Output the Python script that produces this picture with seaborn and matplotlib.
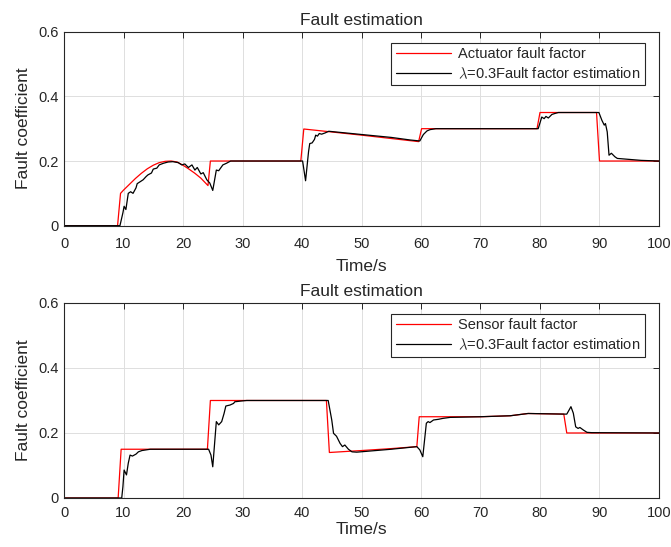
import seaborn as sns
import pandas as pd
import matplotlib
matplotlib.use("Agg")
import matplotlib.pyplot as plt

# actuator fault (top panel)
act_t = [0, 9.0, 9.5, 10, 11, 12, 13, 14, 15, 16, 17, 18, 19, 20, 21, 22, 23, 24.2, 24.6,
         39.8, 40.3, 50, 59.6, 60.1, 79.5, 80.0, 89.5, 90.0, 100]
act_f = [0, 0, 0.100, 0.110, 0.128, 0.146, 0.162, 0.176, 0.187, 0.195, 0.199, 0.200, 0.197,
         0.187, 0.175, 0.162, 0.147, 0.124, 0.200, 0.200, 0.299, 0.280, 0.260, 0.300, 0.300,
         0.350, 0.350, 0.200, 0.200]

act_est_t = [0, 9.4, 9.9, 10.1, 10.4, 10.8, 11.2, 11.6, 12.1, 12.3, 12.8, 13.3, 13.8, 14.1,
             14.7, 15.0, 15.6, 16.0, 16.7, 17.5, 18.3, 19.2, 19.8, 20.3, 20.9, 21.5, 22.0,
             22.4, 23.0, 23.4, 24.0, 24.5, 25.0, 25.6, 26.0, 26.7, 27.3, 28.0, 40.1, 40.6,
             41.1, 41.3, 41.7, 42.1, 42.3, 42.6, 42.9, 43.3, 43.9, 44.5, 50, 55, 58.2, 59.8,
             60.4, 61.0, 61.5, 62.5, 79.7, 80.3, 80.7, 81.0, 81.4, 82.0, 82.5, 83.1, 89.9,
             90.4, 90.8, 91.0, 91.3, 91.6, 92.0, 92.6, 93.0, 95.0, 97.0, 100]
act_est = [0, 0, 0.040, 0.060, 0.050, 0.100, 0.105, 0.100, 0.117, 0.130, 0.136, 0.142, 0.152,
           0.157, 0.163, 0.175, 0.178, 0.188, 0.193, 0.197, 0.198, 0.195, 0.188, 0.191, 0.180,
           0.188, 0.172, 0.180, 0.160, 0.164, 0.142, 0.132, 0.109, 0.172, 0.170, 0.188, 0.193,
           0.200, 0.200, 0.139, 0.229, 0.254, 0.256, 0.267, 0.280, 0.277, 0.285, 0.283, 0.287,
           0.292, 0.282, 0.273, 0.265, 0.262, 0.282, 0.293, 0.297, 0.300, 0.300, 0.336, 0.331,
           0.338, 0.333, 0.344, 0.347, 0.350, 0.350, 0.326, 0.311, 0.316, 0.290, 0.218, 0.224,
           0.213, 0.208, 0.205, 0.202, 0.200]

# sensor fault (bottom panel)
sen_t = [0, 9.1, 9.6, 24.1, 24.6, 44.1, 44.6, 50, 55, 59.3, 59.7, 70, 75, 78, 84.0, 84.5, 100]
sen_f = [0, 0, 0.150, 0.150, 0.300, 0.300, 0.140, 0.146, 0.152, 0.158, 0.250, 0.250, 0.253,
         0.260, 0.258, 0.200, 0.200]

sen_est_t = [0, 9.7, 9.9, 10.1, 10.5, 10.8, 11.1, 11.5, 12.1, 12.5, 13.1, 14.5, 24.3, 24.7,
             25.0, 25.6, 26.0, 26.5, 26.9, 27.2, 27.9, 28.5, 28.7, 29.6, 30.7, 44.4, 45.0,
             45.3, 45.8, 46.4, 46.8, 47.2, 47.8, 48.4, 49.2, 55, 59.3, 59.8, 60.3, 60.9, 61.2,
             61.5, 62.1, 62.9, 63.7, 64.9, 70, 75, 78, 84.5, 84.9, 85.2, 85.6, 86.0, 86.4,
             86.7, 87.3, 87.9, 88.7, 100]
sen_est = [0, 0, 0.035, 0.086, 0.071, 0.107, 0.132, 0.129, 0.135, 0.142, 0.146, 0.150, 0.150,
           0.132, 0.096, 0.235, 0.225, 0.235, 0.260, 0.283, 0.286, 0.291, 0.296, 0.298, 0.300,
           0.300, 0.240, 0.199, 0.190, 0.168, 0.158, 0.163, 0.150, 0.142, 0.141, 0.150, 0.158,
           0.148, 0.127, 0.230, 0.235, 0.232, 0.240, 0.242, 0.245, 0.248, 0.250, 0.253, 0.260,
           0.258, 0.271, 0.281, 0.261, 0.219, 0.214, 0.217, 0.209, 0.202, 0.201, 0.200]

x_ticks = [0, 10, 20, 30, 40, 50, 60, 70, 80, 90, 100]
y_ticks = [0, 0.2, 0.4, 0.6]
y_tick_labels = ["0", "0.2", "0.4", "0.6"]
est_label = r"$\lambda$=0.3Fault factor estimation"

sns.set_style("white")
plt.rcParams["font.family"] = ["Liberation Sans", "DejaVu Sans"]
plt.rcParams["mathtext.fontset"] = "cm"

fig = plt.figure(figsize=(6.71, 5.47), dpi=100)
ax1 = fig.add_axes([0.0954, 0.5874, 0.8867, 0.3547])
ax2 = fig.add_axes([0.0954, 0.0896, 0.8867, 0.3565])


def draw_panel(ax, t_ref, f_ref, ref_label, t_est, f_est, xpad, xlabelpad):
    ref = pd.DataFrame({"t": t_ref, "v": f_ref})
    est = pd.DataFrame({"t": t_est, "v": f_est})
    sns.lineplot(data=ref, x="t", y="v", ax=ax, color="red", lw=0.9,
                 estimator=None, sort=False, label=ref_label)
    sns.lineplot(data=est, x="t", y="v", ax=ax, color="black", lw=0.9,
                 estimator=None, sort=False, label=est_label)
    ax.set_xlim(0, 100)
    ax.set_ylim(0, 0.6)
    ax.set_xticks(x_ticks)
    ax.set_yticks(y_ticks)
    ax.set_yticklabels(y_tick_labels)
    ax.grid(True, color="0.87", lw=0.7)
    ax.set_axisbelow(True)
    ax.tick_params(direction="in", length=4, width=0.7, top=True, right=True,
                   labelsize=10.5, colors="0.15")
    ax.tick_params(axis="x", pad=xpad)
    ax.tick_params(axis="y", pad=4)
    for s in ax.spines.values():
        s.set_color("0.15")
        s.set_linewidth(0.8)
    ax.set_title("Fault estimation", fontsize=12.5, pad=5)
    ax.set_xlabel("Time/s", fontsize=12.5, labelpad=xlabelpad)
    ax.set_ylabel("Fault coefficient", fontsize=12.5, labelpad=5)
    leg = ax.legend(loc="upper right", bbox_to_anchor=(0.9765, 0.943), borderaxespad=0,
                    fontsize=10.5, handlelength=3.8, fancybox=False, framealpha=1,
                    edgecolor="0.15", borderpad=0.3, labelspacing=0.3, handletextpad=0.5)
    leg.get_frame().set_linewidth(0.8)


draw_panel(ax1, act_t, act_f, "Actuator fault factor", act_est_t, act_est, 8, 6)
draw_panel(ax2, sen_t, sen_f, "Sensor fault factor", sen_est_t, sen_est, 6, 1.5)

plt.savefig("out.png", dpi=100)
plt.close()
